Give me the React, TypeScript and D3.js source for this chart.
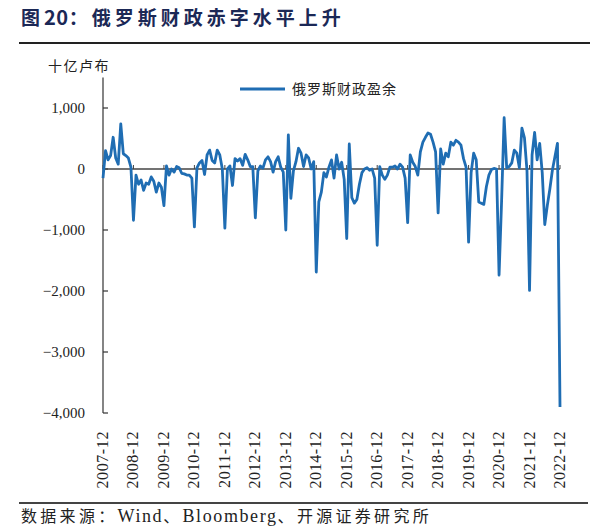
import React from 'react';
import * as d3 from 'd3';

// Russia federal budget monthly balance, billion rubles (Dec 2007 .. Dec 2022)
const dec2007 = [-150];
const y2008 = [300, 150, 220, 520, 180, 80, 740, 250, 220, 180, 30, -840];
const y2009 = [-100, -250, -180, -350, -230, -250, -130, -200, -380, -230, -300, -600];
const y2010 = [50, -100, 0, -50, 40, 20, -70, -80, -100, -100, -150, -950];
const y2011 = [20, 100, 140, -90, 230, 310, 140, 100, 310, 230, 0, -970];
const y2012 = [0, 50, -270, 170, 130, 170, 60, 240, 150, 40, 40, -800];
const y2013 = [-30, 50, 15, 150, 200, 120, -50, 120, 200, 30, -50, -1000];
const y2014 = [560, -480, -30, 120, 340, 260, 40, 230, 180, 0, 120, -1690];
const y2015 = [-540, -380, -60, -130, 30, 150, -150, 230, 0, 110, -170, -1140];
const y2016 = [410, -470, -560, -500, -250, -60, 0, 20, -20, 0, -150, -1250];
const y2017 = [40, -100, -170, -100, 30, 30, 50, 0, 80, 30, -150, -880];
const y2018 = [230, 110, 40, -100, 280, 440, 520, 590, 570, 440, 280, -720];
const y2019 = [330, 80, 260, 200, 440, 390, 470, 440, 390, 170, 30, -1200];
const y2020 = [-60, 260, 150, -540, -560, -580, -290, -100, -10, 10, 0, -1740];
const y2021 = [-520, 840, 20, 40, 100, 310, 260, 20, 670, 510, -30, -1990];
const y2022 = [230, 600, 150, 420, -60, -910, -600, -330, -20, 200, 420, -3900];

const values: number[] = [
  ...dec2007, ...y2008, ...y2009, ...y2010, ...y2011, ...y2012, ...y2013, ...y2014,
  ...y2015, ...y2016, ...y2017, ...y2018, ...y2019, ...y2020, ...y2021, ...y2022,
];

const xLabels = [
  '2007-12', '2008-12', '2009-12', '2010-12', '2011-12', '2012-12', '2013-12', '2014-12',
  '2015-12', '2016-12', '2017-12', '2018-12', '2019-12', '2020-12', '2021-12', '2022-12',
];
const yTicks = [1000, 0, -1000, -2000, -3000, -4000];

const titleParts = ['图', '20', '：俄罗斯财政赤字水平上升'];
const yTitle = '十亿卢布';
const seriesName = '俄罗斯财政盈余';
const sourceParts = ['数据来源：', 'Wind', '、', 'Bloomberg', '、开源证券研究所'];

const BLUE = '#1f6db3';
const SERIF = '"Liberation Serif", "Times New Roman", "Noto Sans CJK SC", serif';
const CJK = '"Noto Sans CJK SC", "Liberation Serif", serif';

const isLatin = (s: string) => /^[A-Za-z0-9]+$/.test(s);

export default function App() {
  const W = 600;
  const H = 527;
  const x = d3.scaleLinear().domain([0, values.length - 1]).range([103, 560]);
  const y = d3.scaleLinear().domain([-4000, 1500]).range([413, 77.5]);
  const line = d3
    .line<number>()
    .x((_, i) => x(i))
    .y((d) => y(d));
  const fmt = d3.format(',');

  return (
    <svg
      width={W}
      height={H}
      style={{ position: 'absolute', left: 0, top: 0, background: '#fff' }}
    >
      {/* title */}
      <text x={21} y={25} fontFamily={CJK} fontWeight={700} fontSize={19} fill="#1b2856">
        {titleParts.map((p, i) => (
          <tspan key={i} letterSpacing={isLatin(p) ? 0.5 : 4} fontSize={isLatin(p) ? 20 : 19}>
            {p}
          </tspan>
        ))}
      </text>
      <line x1={19} x2={590} y1={43} y2={43} stroke="#222" strokeWidth={2} />

      {/* y title */}
      <text x={48} y={71} fontFamily={CJK} fontSize={14} letterSpacing={1.5} fill="#222">
        {yTitle}
      </text>

      {/* legend */}
      <line x1={240} x2={285} y1={89} y2={89} stroke={BLUE} strokeWidth={3} />
      <text x={292} y={94} fontFamily={CJK} fontSize={14} letterSpacing={1} fill="#222">
        {seriesName}
      </text>

      {/* y axis */}
      <line x1={103} x2={103} y1={y(1500)} y2={y(-4000)} stroke="#333" strokeWidth={1.2} />
      {yTicks.map((t) => (
        <g key={t}>
          <line x1={103} x2={108} y1={y(t)} y2={y(t)} stroke="#333" strokeWidth={1.2} />
          <text x={85} y={y(t) + 5} textAnchor="end" fontFamily={SERIF} fontSize={15} fill="#222">
            {fmt(t)}
          </text>
        </g>
      ))}

      {/* zero line with year ticks */}
      <line x1={103} x2={x(values.length - 1)} y1={y(0)} y2={y(0)} stroke="#444" strokeWidth={1.6} />
      {xLabels.map((_, k) => (
        <line key={k} x1={x(k * 12)} x2={x(k * 12)} y1={y(0)} y2={y(0) - 4} stroke="#444" strokeWidth={1} />
      ))}

      {/* data line */}
      <path d={line(values) || ''} fill="none" stroke={BLUE} strokeWidth={2.8} strokeLinejoin="round" />

      {/* x labels */}
      {xLabels.map((lab, k) => (
        <text
          key={lab}
          transform={`translate(${x(k * 12) + 5},431) rotate(-90)`}
          textAnchor="end"
          fontFamily={SERIF}
          fontSize={16}
          letterSpacing={0.6}
          fill="#222"
        >
          {lab}
        </text>
      ))}

      {/* bottom rule & source */}
      <line x1={19} x2={588} y1={503} y2={503} stroke="#444" strokeWidth={2} />
      <text x={21} y={522} fontFamily={SERIF} fontSize={16} fill="#222">
        {sourceParts.map((p, i) => (
          <tspan key={i} letterSpacing={isLatin(p) ? 1.6 : 3.3} fontSize={isLatin(p) ? 18 : 16}>
            {p}
          </tspan>
        ))}
      </text>
    </svg>
  );
}
